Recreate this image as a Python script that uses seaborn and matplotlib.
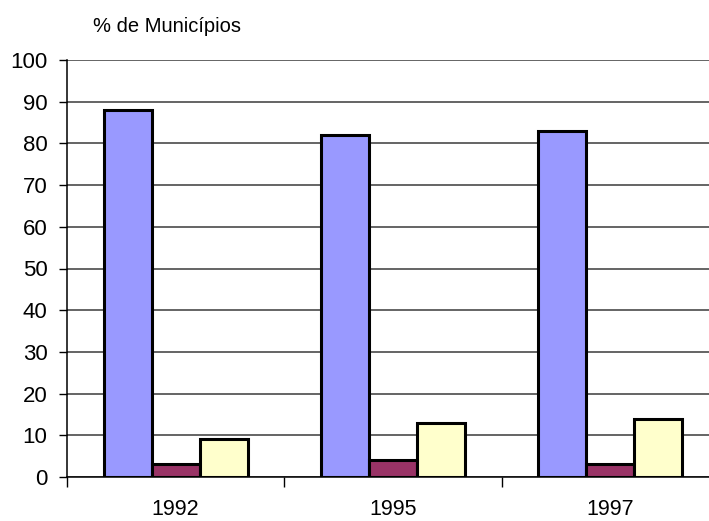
"""Recreate bar chart: % de Municípios by year"""

import matplotlib
matplotlib.use("Agg")
import matplotlib.pyplot as plt
import seaborn as sns
import pandas as pd
from matplotlib.ticker import FixedLocator


# data
years = ['1992', '1995', '1997']
series = ['Série 1', 'Série 2', 'Série 3']
serie1 = [88, 82, 83]
serie2 = [3, 4, 3]
serie3 = [9, 13, 14]
colors = ['#9999FF', '#993366', '#FFFFCC']

rows = []
for name, vals in zip(series, [serie1, serie2, serie3]):
    for yr, v in zip(years, vals):
        rows.append({'ano': yr, 'serie': name, 'valor': v})
df = pd.DataFrame(rows)

sns.set_style('white')
plt.rcParams['font.family'] = ['Liberation Sans', 'DejaVu Sans']
plt.rcParams['text.color'] = 'black'
plt.rcParams['xtick.color'] = 'black'
plt.rcParams['ytick.color'] = 'black'

fig = plt.figure(figsize=(7.09, 5.21), dpi=100)
# axes reaches past the right edge like in the original
ax = fig.add_axes([67 / 709, 44 / 521, 652 / 709, 417 / 521])

sns.barplot(data=df, x='ano', y='valor', hue='serie', palette=colors,
            width=0.664, edgecolor='black', linewidth=2.2,
            saturation=1, legend=False, ax=ax, zorder=3)

ax.set_xlim(-0.5, 2.5)
ax.set_ylim(0, 100)
ax.set_yticks(range(0, 101, 10))
ax.yaxis.grid(True, color='#3a3a3a', linewidth=1.1, zorder=0)
ax.set_axisbelow(True)

ax.set_xlabel('')
ax.set_ylabel('')
ax.tick_params(axis='y', labelsize=16, length=6, width=1, color='black',
               labelcolor='black', direction='out', left=True, pad=8)
ax.tick_params(axis='x', which='major', labelsize=15.5, length=0, pad=16,
               labelcolor='black')
ax.xaxis.set_minor_locator(FixedLocator([-0.5, 0.5, 1.5, 2.5]))
ax.tick_params(axis='x', which='minor', length=7, width=1, color='black',
               direction='out', bottom=True)

for s in ['top', 'right']:
    ax.spines[s].set_visible(False)
for s in ['left', 'bottom']:
    ax.spines[s].set_color('black')
    ax.spines[s].set_linewidth(1.1)

fig.text(93 / 709, 1 - 27 / 521, '% de Municípios', fontsize=14.5,
         color='black', ha='left', va='center')

fig.savefig('out.png', dpi=100)
